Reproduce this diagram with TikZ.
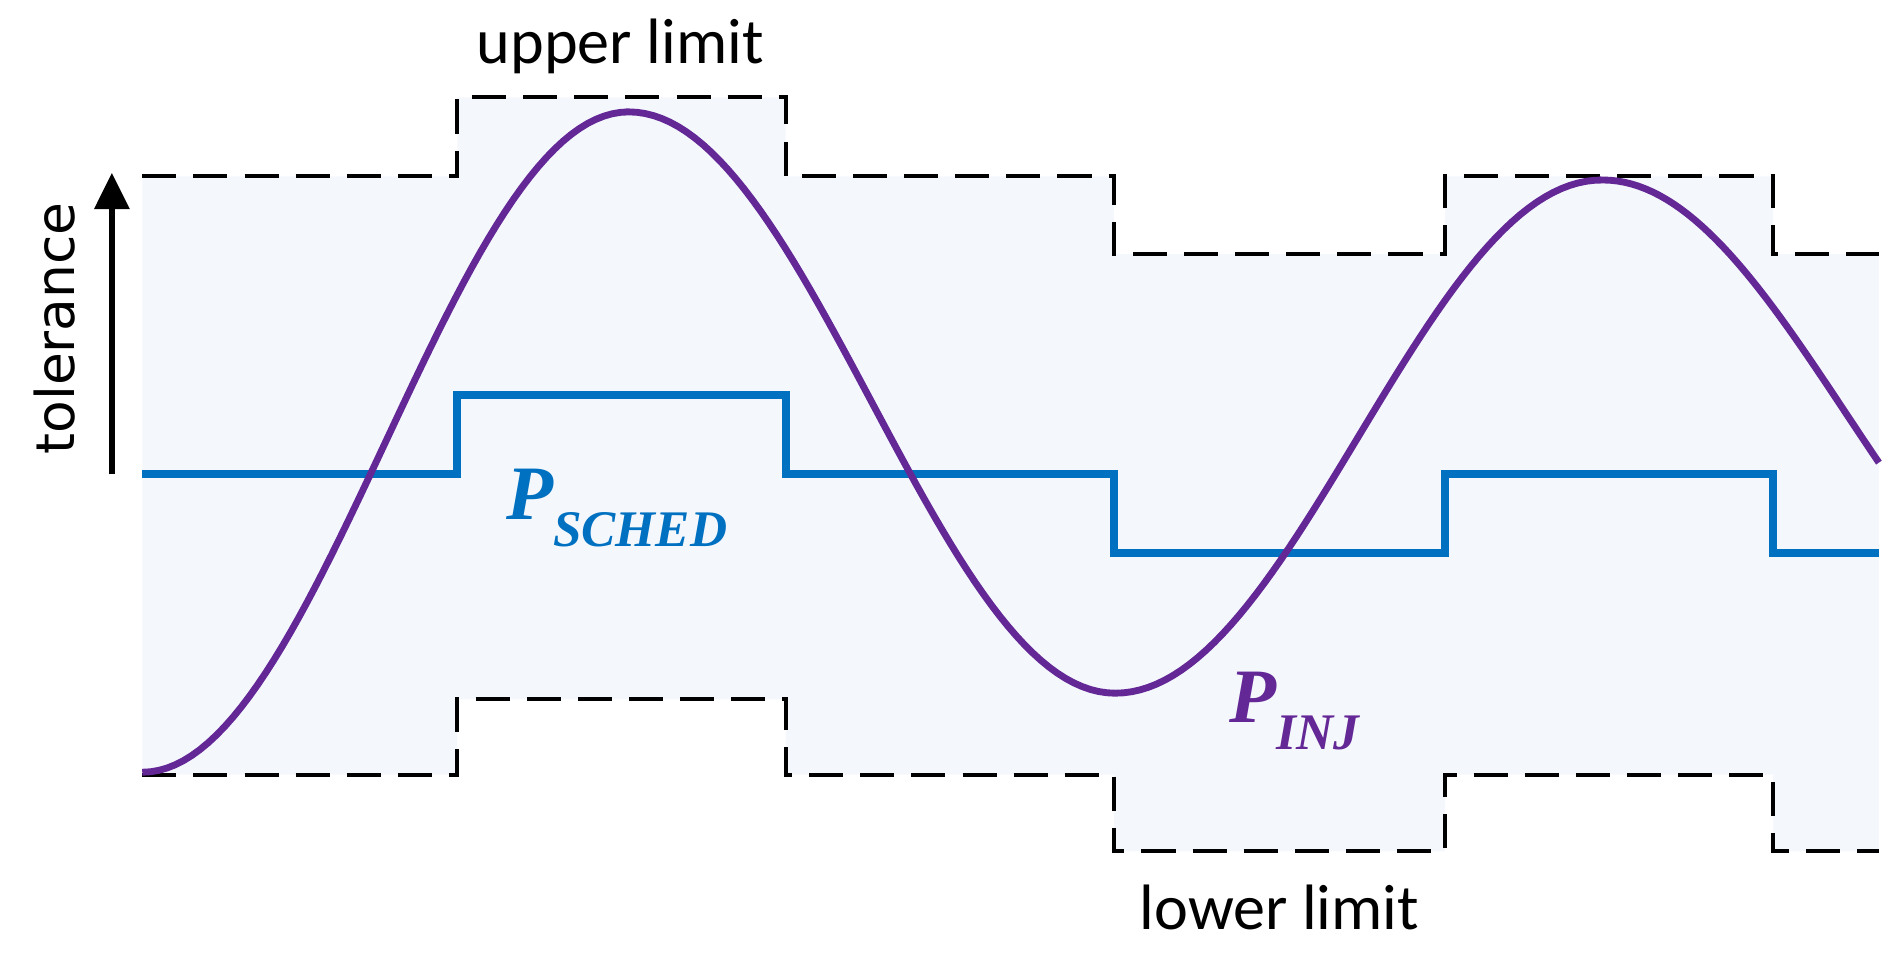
\documentclass[tikz,border=0pt]{standalone}
\usepackage{fontspec}
\setmainfont{Carlito}
\newfontfamily\tolfont{DejaVu Sans}
\newfontfamily\pfont{Liberation Serif}
\usetikzlibrary{arrows.meta,positioning}
\definecolor{schedblue}{RGB}{0,112,192}
\definecolor{injpurple}{RGB}{100,40,150}
\definecolor{bandfill}{RGB}{244,248,253}

\begin{document}
\begin{tikzpicture}[x=0.01cm,y=-0.01cm,
                    limit/.style={black,line width=0.9pt,dash pattern=on 0.28cm off 0.14cm},
                    sched/.style={schedblue,line width=1.9pt},
                    inj/.style={injpurple,line width=1.6pt},
                    lbl/.style={font=\fontsize{15}{18}\selectfont}]
  \useasboundingbox (0,0) rectangle (1564,800);

  % band between the limits
  \fill[bandfill] (117,145) -| (376,80) -| (646,145) -| (916,209) -| (1188,145) -| (1458,209) -| (1545,700)
    -| (1458,637) -| (1188,700) -| (916,637) -| (646,575) -| (376,637) -| (117,145) -- cycle;

  % limits
  \draw[limit] (117,145) -| (376,80) -| (646,145) -| (916,209) -| (1188,145) -| (1458,209) -- (1545,209);
  \draw[limit] (117,637) -| (376,575) -| (646,637) -| (916,700) -| (1188,637) -| (1458,700) -- (1545,700);

  % schedule
  \draw[sched] (117,390) -| (376,325) -| (646,390) -| (916,455) -| (1188,390) -| (1458,455) -- (1545,455);

  % injection
  \draw[inj] plot[domain=0:400,samples=60] ({117+\x},{635-543*(1-cos(0.45*\x))/2})
    -- plot[domain=0:400,samples=60] ({517+\x},{92+478*(1-cos(0.45*\x))/2})
    -- plot[domain=0:401,samples=60] ({917+\x},{570-422*(1-cos(0.45*\x))/2})
    -- plot[domain=0:227,samples=40] ({1318+\x},{148+384*(1-cos(0.45*\x))/2});

  % tolerance arrow
  \coordinate (tolbot) at (92,390);
  \coordinate (toltop) at (92,142);
  \draw[-{Triangle[length=0.3cm,width=0.28cm]},line width=1.5pt] (tolbot) -- (toltop);
  \node[rotate=90,font=\tolfont\fontsize{12.5}{15}\selectfont] (tol) at (45,270) {tolerance};

  \node[lbl] (upper) at (510,38) {upper limit};
  \node[lbl] (lower) at (1052,746) {lower limit};
  \node[schedblue,font=\pfont\bfseries\itshape\fontsize{18}{20}\selectfont] (psched) at (507,418)
    {P\raisebox{-0.35em}{\fontsize{12}{14}\selectfont SCHED}};
  \node[injpurple,font=\pfont\bfseries\itshape\fontsize{18}{20}\selectfont] (pinj) at (1064,585)
    {P\raisebox{-0.35em}{\fontsize{12}{14}\selectfont INJ}};
\end{tikzpicture}
\end{document}
